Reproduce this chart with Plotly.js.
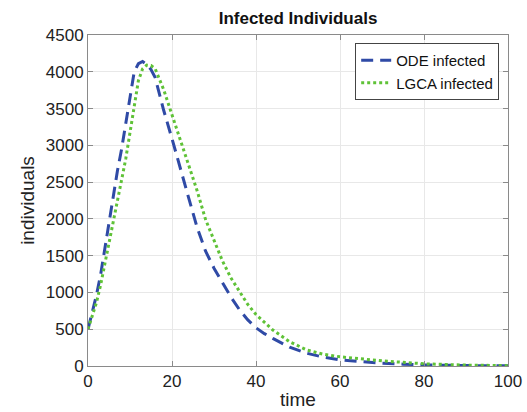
<!DOCTYPE html>
<html>
<head>
<meta charset="utf-8">
<script src="https://cdn.plot.ly/plotly-3.0.1.min.js"></script>
<style>html,body{margin:0;padding:0;background:#fff;}#chart{width:527px;height:412px;}</style>
</head>
<body>
<div id="chart"></div>
<script>
// Data
const odeTime = [0,1,2,3,4,5,6,7,8,9,10,11,12,13,14,15,16,18,20,22,24,26,28,30,32,34,36,38,40,42,44,48,52,56,60,65,70,75,80,90,100];
const odeInfected = [500,730,960,1240,1600,1960,2330,2650,2950,3290,3680,4000,4110,4140,4100,4030,3920,3480,3090,2700,2280,1880,1560,1330,1130,940,770,630,520,440,375,255,175,120,82,55,38,25,15,6,2];

const lgcaTime = [0,1,2,3,4,5,6,7,8,9,10,11,12,13,14,15,16,18,20,22,24,26,28,30,32,34,36,38,40,42,44,46,48,52,56,60,65,70,75,80,90,100];
const lgcaInfected = [500,680,860,1100,1380,1650,1920,2230,2530,2820,3180,3570,3880,4040,4090,4085,4040,3760,3420,3080,2750,2380,1990,1720,1430,1200,1020,840,700,590,490,410,330,220,160,125,95,70,50,30,12,5];

const xTicks = [0,20,40,60,80,100];
const yTicks = [0,500,1000,1500,2000,2500,3000,3500,4000,4500];

const fontFam = '"Liberation Sans", Arial, Helvetica, sans-serif';

const traces = [
  {x: odeTime, y: odeInfected, type: 'scatter', mode: 'lines', name: 'ODE infected',
   line: {color: '#2f4aa6', width: 3, dash: '12px,7px'}},
  {x: lgcaTime, y: lgcaInfected, type: 'scatter', mode: 'lines', name: 'LGCA infected',
   line: {color: '#5fc237', width: 3, dash: 'dot'}}
];

const axisCommon = {
  showline: true, mirror: 'ticks', linecolor: '#8a8a8a', linewidth: 1,
  ticks: 'inside', ticklen: 5, tickcolor: '#8a8a8a',
  showgrid: true, gridcolor: '#e8e8e8', gridwidth: 1, zeroline: false,
  tickfont: {family: fontFam, size: 17, color: '#222'}
};

const layout = {
  width: 527, height: 412,
  margin: {l: 88, r: 19, t: 35, b: 46},
  paper_bgcolor: '#fff', plot_bgcolor: '#fff',
  font: {family: fontFam, color: '#222'},
  title: {text: '<b>Infected Individuals</b>', font: {family: fontFam, size: 17, color: '#111'},
          x: 0.5655, xanchor: 'center', y: 0.955, yanchor: 'middle'},
  xaxis: Object.assign({}, axisCommon, {
    range: [0, 100], tickvals: xTicks, ticktext: xTicks.map(String),
    title: {text: 'time', font: {family: fontFam, size: 19, color: '#222'}, standoff: 2}
  }),
  yaxis: Object.assign({}, axisCommon, {
    range: [0, 4500], tickvals: yTicks, ticktext: yTicks.map(String),
    title: {text: 'individuals', font: {family: fontFam, size: 19, color: '#222'}, standoff: 6}
  }),
  showlegend: true,
  legend: {x: 0.979, xanchor: 'right', y: 0.976, yanchor: 'top',
           bgcolor: '#fff', bordercolor: '#444', borderwidth: 1,
           font: {family: fontFam, size: 15, color: '#111'},
           tracegroupgap: 0, itemwidth: 30}
};

Plotly.newPlot('chart', traces, layout, {displayModeBar: false, staticPlot: true});
</script>
</body>
</html>
